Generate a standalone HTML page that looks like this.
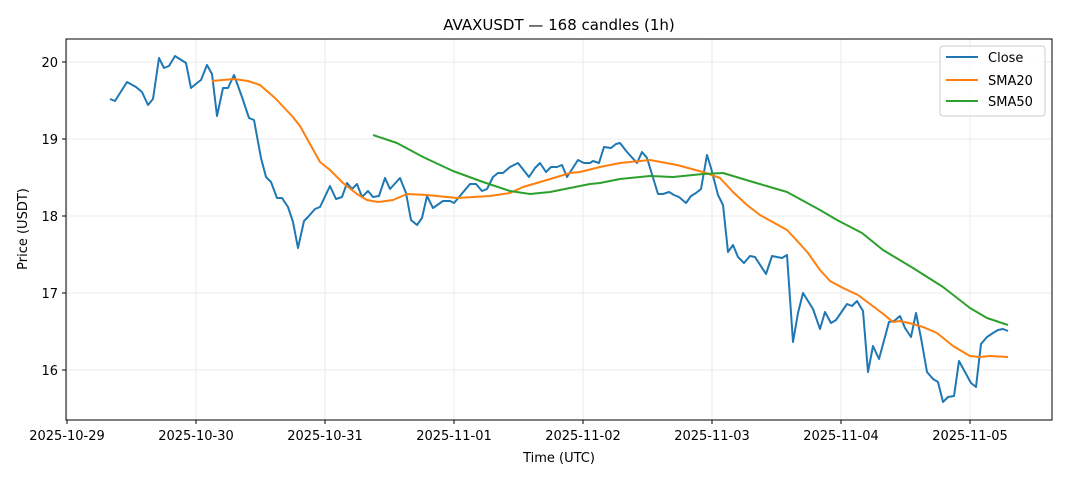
<!DOCTYPE html>
<html><head><meta charset="utf-8"><style>body{margin:0;background:#fff}svg{display:block;font-family:"DejaVu Sans","Liberation Sans",sans-serif}</style></head><body>
<svg width="1068" height="481" viewBox="0 0 1068 481" xmlns="http://www.w3.org/2000/svg">
<rect width="1068" height="481" fill="#fff"/>
<g stroke="#ebebeb" stroke-width="1">
<line x1="67" y1="39" x2="67" y2="420"/><line x1="196" y1="39" x2="196" y2="420"/><line x1="325" y1="39" x2="325" y2="420"/><line x1="454" y1="39" x2="454" y2="420"/><line x1="583" y1="39" x2="583" y2="420"/><line x1="712" y1="39" x2="712" y2="420"/><line x1="841" y1="39" x2="841" y2="420"/><line x1="970" y1="39" x2="970" y2="420"/>
<line x1="66" y1="62" x2="1052" y2="62"/><line x1="66" y1="139" x2="1052" y2="139"/><line x1="66" y1="216" x2="1052" y2="216"/><line x1="66" y1="293" x2="1052" y2="293"/><line x1="66" y1="370" x2="1052" y2="370"/>
</g>
<g fill="none" stroke-width="2" stroke-linejoin="round">
<polyline stroke="#1f77b4" points="110,99 115,101 127,82 136,87 142,92 148,105 153,99 159,58 164,68 169,66 175,56 186,63 191,88 197,83 201,80 207,65 212,74 217,116 223,88 228,88 234,75 242,97 249,118 254,120 261,158 266,177 271,182 277,198 282,198 288,207 293,222 298,248 304,221 308,217 315,209 320,207 330,186 336,199 342,197 347,183 352,189 357,184 362,197 368,191 373,197 379,196 385,178 390,189 400,178 406,193 411,220 417,225 422,218 427,196 433,208 443,201 450,201 454,203 465,190 470,184 476,184 482,191 487,189 493,177 498,173 503,173 510,167 518,163 529,177 535,168 540,163 546,172 551,167 557,167 562,165 567,177 578,160 584,163 590,163 593,161 599,163 604,147 611,148 616,144 620,143 627,152 637,163 642,152 647,158 658,194 663,194 669,192 674,195 679,197 686,203 691,196 696,193 701,189 707,155 711,168 718,195 723,205 728,252 733,245 738,257 744,263 750,256 755,257 766,274 772,256 782,258 787,255 793,342 798,313 803,293 813,309 820,329 825,312 831,323 836,320 847,304 852,306 857,301 863,311 868,372 873,346 879,359 889,322 894,321 900,316 905,328 911,337 916,313 921,338 927,372 933,379 938,382 943,402 948,397 954,396 959,361 965,372 971,383 976,387 981,344 987,337 993,333 998,330 1003,329 1008,331"/>
<polyline stroke="#ff7f0e" points="212,81 234,79 248,81 260,85 275,98 292,116 300,126 320,162 330,170 343,183 357,194 367,200 378,202 393,200 407,194 427,195 457,198 490,196 510,193 523,187 547,180 570,173 580,172 600,167 620,163 650,160 677,165 703,172 720,178 733,192 747,205 760,215 787,230 800,244 808,253 820,270 830,281 843,288 858,295 870,304 882,313 893,322 900,321 913,324 923,327 937,333 953,346 970,356 980,357 990,356 1008,357"/>
<polyline stroke="#2ca02c" points="373,135 397,143 423,157 453,171 483,182 510,191 530,194 550,192 570,188 590,184 600,183 620,179 650,176 673,177 703,174 723,173 753,182 787,192 820,210 837,220 862,233 883,250 913,268 943,287 970,308 987,318 1008,325"/>
</g>
<rect x="66" y="39" width="986" height="381" fill="none" stroke="#000" stroke-width="1"/>
<g stroke="#000"><line x1="67" y1="420" x2="67" y2="424"/><line x1="196" y1="420" x2="196" y2="424"/><line x1="325" y1="420" x2="325" y2="424"/><line x1="454" y1="420" x2="454" y2="424"/><line x1="583" y1="420" x2="583" y2="424"/><line x1="712" y1="420" x2="712" y2="424"/><line x1="841" y1="420" x2="841" y2="424"/><line x1="970" y1="420" x2="970" y2="424"/>
<line x1="62" y1="62" x2="66" y2="62"/><line x1="62" y1="139" x2="66" y2="139"/><line x1="62" y1="216" x2="66" y2="216"/><line x1="62" y1="293" x2="66" y2="293"/><line x1="62" y1="370" x2="66" y2="370"/></g>
<g font-size="13" fill="#000" text-anchor="middle">
<text x="67" y="440">2025-10-29</text><text x="196" y="440">2025-10-30</text><text x="325" y="440">2025-10-31</text><text x="454" y="440">2025-11-01</text><text x="583" y="440">2025-11-02</text><text x="712" y="440">2025-11-03</text><text x="841" y="440">2025-11-04</text><text x="970" y="440">2025-11-05</text>
<text x="559" y="462">Time (UTC)</text>
<text x="559" y="30" font-size="15">AVAXUSDT — 168 candles (1h)</text>
<text transform="translate(27,229) rotate(-90)">Price (USDT)</text>
</g>
<g font-size="13" text-anchor="end"><text x="58" y="67">20</text><text x="58" y="144">19</text><text x="58" y="221">18</text><text x="58" y="298">17</text><text x="58" y="375">16</text></g>
<rect x="940" y="46" width="105" height="70" rx="3" fill="#fff" fill-opacity="0.8" stroke="#ccc"/>
<g stroke-width="2"><line x1="946" y1="57" x2="978" y2="57" stroke="#1f77b4"/><line x1="946" y1="80" x2="978" y2="80" stroke="#ff7f0e"/><line x1="946" y1="101" x2="978" y2="101" stroke="#2ca02c"/></g>
<g font-size="13"><text x="988" y="62">Close</text><text x="988" y="85">SMA20</text><text x="988" y="106">SMA50</text></g>
</svg>
</body></html>
